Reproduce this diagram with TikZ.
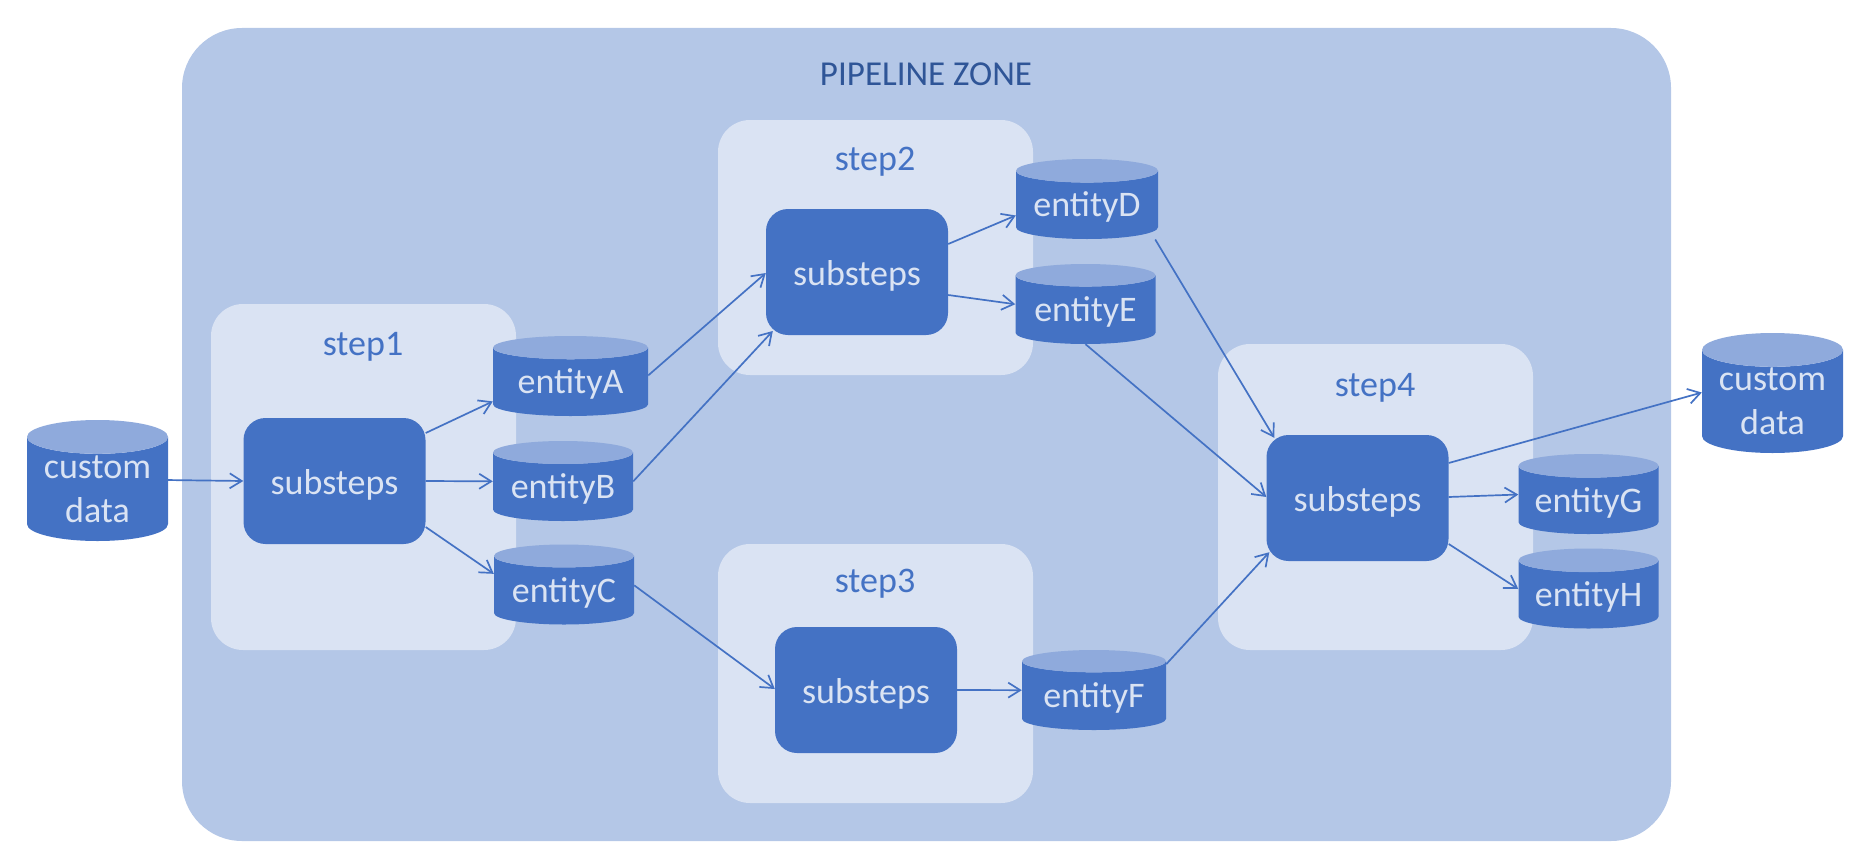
\documentclass[tikz,border=0pt]{standalone}
\usepackage{fontspec}
\setmainfont{Carlito}
\usetikzlibrary{arrows.meta}
\usetikzlibrary{positioning}
\usetikzlibrary{shapes.geometric}
\definecolor{zonefill}{HTML}{B4C7E7}
\definecolor{stepfill}{HTML}{DAE3F3}
\definecolor{darkfill}{HTML}{4472C4}
\definecolor{topfill}{HTML}{8FAADC}
\definecolor{zonetext}{HTML}{2F5597}
\tikzset{
  zonebox/.style={fill=zonefill,rounded corners=60pt,inner sep=0pt,minimum width=1489pt,minimum height=813pt},
  stepbox/.style={fill=stepfill,rounded corners=32pt,inner sep=0pt,minimum width=315pt},
  steplabel/.style={text=darkfill,font=\fontsize{36pt}{38pt}\selectfont},
  subbox/.style={fill=darkfill,rounded corners=22pt,inner sep=0pt,minimum width=182pt,minimum height=126pt,
    text height=34pt,text depth=7pt,text=stepfill,font=\fontsize{36pt}{38pt}\selectfont},
  store/.style={cylinder,shape border rotate=90,cylinder uses custom fill,cylinder body fill=darkfill,
    cylinder end fill=topfill,inner sep=0pt,text=stepfill,align=center,anchor=shape center,
    font=\fontsize{36pt}{44pt}\selectfont},
  entity/.style={store,aspect=0.22,minimum width=140pt,minimum height=80pt,text height=31pt,text depth=7pt},
  flow/.style={-{Straight Barb[length=12pt,width=15pt,line width=1.7pt]},draw=darkfill,line width=1.7pt}
}
\begin{document}
\begin{tikzpicture}[x=1pt,y=-1pt]
  \useasboundingbox (0,0) rectangle (1865,851);
  \node[zonebox] (zone) at (926.5,434.5) {};
  \node[text=zonetext,font=\fontsize{35pt}{37pt}\selectfont] (zonelabel) at (926,74) {PIPELINE ZONE};

  % steps
  \node[stepbox,minimum width=305pt,minimum height=346pt] (step1) at (363.5,477) {};
  \node[stepbox,minimum height=255pt] (step2) at (875.5,247.5) {};
  \node[stepbox,minimum height=259pt] (step3) at (875.5,673.5) {};
  \node[stepbox,minimum height=306pt] (step4) at (1375.5,497) {};
  \node[steplabel] (label1) at (363,347) {step1};
  \node[steplabel] (label2) at (875,162) {step2};
  \node[steplabel] (label3) at (875,584) {step3};
  \node[steplabel] (label4) at (1375,388) {step4};

  % substeps
  \node[subbox] (sub1) at (334.5,481) {substeps};
  \node[subbox] (sub2) at (857,272) {substeps};
  \node[subbox] (sub3) at (866,690) {substeps};
  \node[subbox] (sub4) at (1357.5,498) {substeps};

  % stores
  \node[store,aspect=0.315,minimum width=141pt,minimum height=121pt] (customin) at (97.5,480.5) {custom\\data};
  \node[store,aspect=0.315,minimum width=141pt,minimum height=120pt] (customout) at (1772.5,393) {custom\\data};
  \node[entity,minimum width=155pt] (entA) at (570.5,376) {entityA};
  \node[entity] (entB) at (563,481) {entityB};
  \node[entity] (entC) at (564,584.5) {entityC};
  \node[entity,minimum width=142pt] (entD) at (1087,199) {entityD};
  \node[entity] (entE) at (1085.5,304) {entityE};
  \node[entity,minimum width=144pt] (entF) at (1094,690) {entityF};
  \node[entity] (entG) at (1588.5,494) {entityG};
  \node[entity] (entH) at (1588.5,588.5) {entityH};

  % connectors
  \draw[flow] ([shift={(0,-9)}]customin.east) -- (sub1.west);
  \draw[flow] ([shift={(0,-48)}]sub1.east) -- ([shift={(0,19.5)}]entA.west);
  \draw[flow] (sub1.east) -- ([shift={(0,-5.5)}]entB.west);
  \draw[flow] ([shift={(0,46)}]sub1.east) -- ([shift={(0,-16.5)}]entC.west);
  \draw[flow] ([shift={(0,-6.5)}]entA.east) -- ([shift={(0,1)}]sub2.west);
  \draw[flow] ([shift={(0,-5.5)}]entB.east) -- ([shift={(7,59)}]sub2.west);
  \draw[flow] ([shift={(0,-5)}]entC.east) -- ([shift={(0,-1)}]sub3.west);
  \draw[flow] ([shift={(0,-28)}]sub2.east) -- ([shift={(0,10.5)}]entD.west);
  \draw[flow] ([shift={(0,23)}]sub2.east) -- ([shift={(0,-5.5)}]entE.west);
  \draw[flow] (sub3.east) -- ([shift={(0,-5.5)}]entF.west);
  \draw[flow] ([shift={(-3,34.5)}]entD.east) -- ([shift={(8,3)}]sub4.north west);
  \draw[flow] (entE.south) -- ([shift={(0,-1)}]sub4.west);
  \draw[flow] ([shift={(0,-31.5)}]entF.east) -- ([shift={(3,-9)}]sub4.south west);
  \draw[flow] ([shift={(0,-35)}]sub4.east) -- ([shift={(0,-9)}]customout.west);
  \draw[flow] ([shift={(0,-1)}]sub4.east) -- ([shift={(0,-5.5)}]entG.west);
  \draw[flow] ([shift={(0,46)}]sub4.east) -- ([shift={(0,-5.5)}]entH.west);
\end{tikzpicture}
\end{document}
